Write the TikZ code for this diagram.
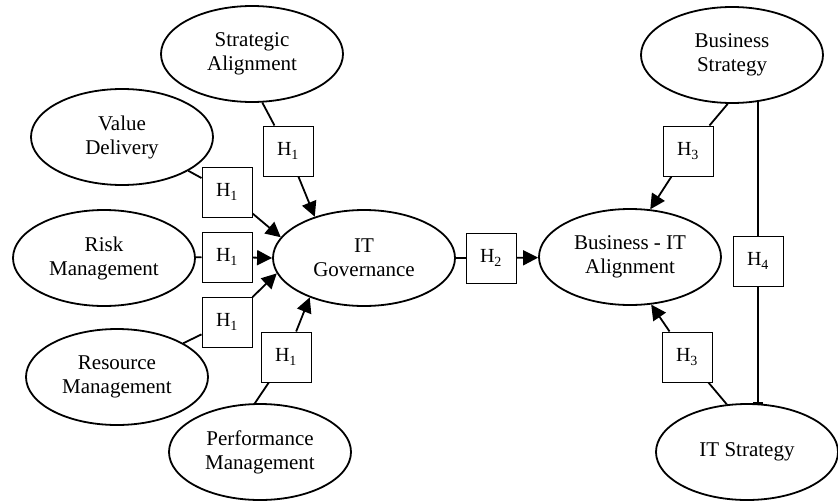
\documentclass[tikz,border=0pt]{standalone}
\usepackage{fontspec}
\setmainfont{Liberation Serif}
\usetikzlibrary{shapes.geometric,arrows.meta}

\begin{document}
\begin{tikzpicture}[x=1pt,y=-1pt,line width=1.8pt]

      \useasboundingbox (0,0) rectangle (838,501);

      \begin{scope}[every node/.style={ellipse,draw,minimum width=182pt,minimum height=96pt,inner sep=0pt,align=center,font=\fontsize{21}{24}\selectfont}]
        \node (sa)  at (252,54)   {Strategic\\Alignment};
        \node (vd)  at (122,137)  {Value\\Delivery};
        \node (rm)  at (104,258)  {Risk\\Management};
        \node (rs)  at (117,377)  {Resource\\Management};
        \node (pm)  at (260,452)  {Performance\\Management};
        \node (itg) at (364,258)  {IT\\Governance};
        \node (ba)  at (630,257)  {Business - IT\\Alignment};
        \node (bs)  at (732,55)   {Business\\Strategy};
        \node (its) at (747,452)  {IT Strategy};
      \end{scope}

      \begin{scope}[every node/.style={rectangle,draw,line width=1pt,minimum size=50pt,inner sep=0pt,font=\fontsize{20}{22}\selectfont}]
        \node (h1sa) at (288,151) {H\textsubscript{1}};
        \node (h1vd) at (227,192) {H\textsubscript{1}};
        \node (h1rm) at (227,257) {H\textsubscript{1}};
        \node (h1rs) at (227,322) {H\textsubscript{1}};
        \node (h1pm) at (286,357) {H\textsubscript{1}};
        \node (h2)   at (491,258) {H\textsubscript{2}};
        \node (h3bs) at (688,151) {H\textsubscript{3}};
        \node (h3it) at (687,357) {H\textsubscript{3}};
        \node (h4)   at (758,261) {H\textsubscript{4}};
      \end{scope}

      \coordinate (bsb) at (758,101);
      \coordinate (itt) at (758,404);

      \begin{scope}[every edge/.style={draw}]
        \path (sa.282) edge (h1sa);
        \path (vd.333) edge (h1vd);
        \path (rm)     edge (h1rm);
        \path (rs.27)  edge (h1rs);
        \path (pm.96)  edge (h1pm);
        \path (itg)    edge (h2);
        \path (bs.265) edge (h3bs);
        \path (its.113) edge (h3it);
        \path (bsb)    edge (h4);
      \end{scope}

      \begin{scope}[every edge/.style={draw,-{Triangle[length=15pt,width=15pt]}}]
        \path (h1sa) edge (itg.140);
        \path (h1vd) edge (itg.166);
        \path (h1rm) edge (itg.180);
        \path (h1rs) edge (itg.190);
        \path (h1pm) edge (itg.216);
        \path (h2)   edge (ba);
        \path (h3bs) edge (ba.67);
        \path (h3it) edge (ba.294);
      \end{scope}

      \path (h4) edge[draw,-{Bar[width=10pt,line width=2.5pt]}] (itt);

    \end{tikzpicture}
\end{document}
